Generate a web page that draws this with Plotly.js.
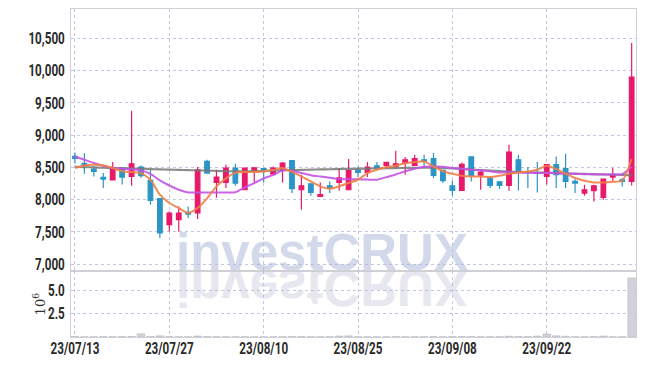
<!DOCTYPE html>
<html>
<head>
<meta charset="utf-8">
<script src="https://cdn.plot.ly/plotly-3.0.1.min.js"></script>
<style>
html,body{margin:0;padding:0;background:#fff;}
#chart{width:645px;height:366px;}
</style>
</head>
<body>
<div id="chart"></div>
<script>
const dates = ['23/07/13','23/07/14','23/07/17','23/07/18','23/07/19','23/07/20','23/07/21','23/07/24','23/07/25','23/07/26',
'23/07/27','23/07/28','23/07/31','23/08/01','23/08/02','23/08/03','23/08/04','23/08/07','23/08/08','23/08/09',
'23/08/10','23/08/11','23/08/14','23/08/16','23/08/17','23/08/18','23/08/21','23/08/22','23/08/23','23/08/24',
'23/08/25','23/08/28','23/08/29','23/08/30','23/08/31','23/09/01','23/09/04','23/09/05','23/09/06','23/09/07',
'23/09/08','23/09/11','23/09/12','23/09/13','23/09/14','23/09/15','23/09/18','23/09/19','23/09/20','23/09/21',
'23/09/22','23/09/25','23/09/26','23/09/27','23/10/04','23/10/05','23/10/06','23/10/10','23/10/11','23/10/12'];

const openP  = [8670,8565,8475,8345,8305,8495,8360,8505,8298,8015, 7612,7690,7802,7793,8593,8268,8268,8490,8154,8438,
                8480,8397,8464,8604,8154,8247,8051,8216,8268,8154, 8454,8423,8526,8531,8516,8567,8531,8619,8635,8454,
                8216,8143,8665,8380,8325,8278,8221,8619,8432,8420, 8360,8542,8480,8283,8103,8139,8035,8350,8309,8283];
const highP  = [8730,8720,8515,8413,8585,8500,9380,8530,8464,8015, 7818,7895,7895,8506,8620,8464,8542,8557,8500,8500,
                8480,8516,8583,8604,8387,8247,8268,8283,8490,8630, 8516,8583,8583,8578,8758,8661,8697,8697,8723,8454,
                8298,8578,8665,8464,8360,8278,8850,8697,8506,8583, 8542,8671,8712,8320,8232,8232,8320,8490,8335,10428];
const lowP   = [8560,8400,8360,8180,8300,8235,8217,8340,7922,7406, 7508,7508,7716,7700,8413,8030,8180,8216,8154,8268,
                8268,8397,8268,8103,7844,8061,8051,8103,8140,8154, 8350,8350,8464,8480,8475,8387,8531,8516,8335,8258,
                8061,8143,8283,8154,8180,8165,8139,8143,8180,8112, 8236,8180,8180,8103,8061,7973,7999,8283,8206,8221];
const closeP = [8640,8535,8440,8320,8490,8350,8557,8371,7988,7483, 7793,7793,7777,8464,8413,8350,8490,8258,8490,8495,
                8464,8490,8567,8170,8216,8112,8077,8180,8340,8449, 8423,8506,8490,8578,8557,8619,8635,8599,8376,8294,
                8143,8548,8376,8428,8221,8221,8738,8438,8425,8413, 8542,8387,8283,8258,8154,8216,8320,8387,8283,9901];
const volume = [0.04e6,0.03e6,0.03e6,0.04e6,0.03e6,0.04e6,0.05e6,0.35e6,0.05e6,0.12e6, 0.04e6,0.03e6,0.03e6,0.10e6,0.05e6,0.03e6,0.03e6,0.03e6,0.03e6,0.02e6,
                0.02e6,0.02e6,0.03e6,0.04e6,0.04e6,0.03e6,0.03e6,0.03e6,0.10e6,0.12e6, 0.03e6,0.03e6,0.02e6,0.03e6,0.04e6,0.03e6,0.03e6,0.03e6,0.04e6,0.03e6,
                0.04e6,0.05e6,0.04e6,0.03e6,0.03e6,0.03e6,0.08e6,0.05e6,0.04e6,0.10e6, 0.32e6,0.12e6,0.08e6,0.03e6,0.03e6,0.04e6,0.10e6,0.03e6,0.03e6,6.28e6];
const ma5  = [8490,8530,8540,8530,8490,8440,8428,8413,8310,8077, 7948,7870,7793,7870,8020,8206,8330,8420,8428,8430,
              8435,8460,8490,8430,8360,8283,8206,8170,8206,8258, 8309,8413,8464,8506,8526,8568,8583,8593,8516,8438,
              8402,8371,8360,8360,8350,8371,8402,8423,8438,8464, 8526,8475,8402,8335,8294,8268,8268,8278,8294,8630];
const ma20 = [8670,8620,8570,8526,8490,8480,8470,8454,8400,8300, 8220,8154,8112,8112,8112,8112,8112,8115,8190,8258,
              8330,8380,8454,8450,8413,8380,8360,8340,8320,8318, 8316,8312,8309,8350,8390,8440,8480,8510,8516,8510,
              8490,8478,8464,8454,8440,8423,8425,8420,8418,8415, 8413,8410,8405,8400,8395,8392,8390,8390,8395,8510];
const ma60 = [8510,8505,8500,8495,8490,8486,8482,8478,8474,8470, 8466,8462,8458,8454,8450,8446,8442,8440,8440,8442,
              8446,8450,8454,8458,8462,8466,8470,8472,8475,8477, 8479,8482,8485,8488,8490,8492,8494,8495,8494,8490,
              8484,8476,8468,8460,8452,8444,8436,8430,8425,8420, 8416,8412,8408,8404,8400,8396,8392,8388,8384,8378];
const priceTicks = [7000,7500,8000,8500,9000,9500,10000,10500];
const volTicks = [2.5e6,5e6];
const volTickText = ['2.5','5.0'];
const xTicks = ['23/07/13','23/07/27','23/08/10','23/08/25','23/09/08','23/09/22'];
const watermark = 'investCRUX';

const RED = '#e8196b', BLUE = '#2b95c8';
const tickFont = {family:'Roboto, "Liberation Sans", sans-serif', size:16, weight:'bold', color:'#2a2a2a'};
const gridC = 'rgba(175,180,215,0.75)';

const traces = [
  {type:'bar', x:dates, y:volume, xaxis:'x2', yaxis:'y2',
   marker:{color:'rgba(205,205,214,0.9)', line:{color:'rgba(180,180,190,0.9)', width:0.6}},
   hoverinfo:'skip', showlegend:false},
  {type:'candlestick', x:dates, open:openP, high:highP, low:lowP, close:closeP,
   xaxis:'x', yaxis:'y',
   increasing:{line:{color:RED,width:1.2}, fillcolor:RED},
   decreasing:{line:{color:BLUE,width:1.2}, fillcolor:BLUE},
   showlegend:false, hoverinfo:'skip'},
  {type:'scatter', mode:'lines', x:dates, y:ma60, xaxis:'x', yaxis:'y',
   line:{color:'rgba(120,120,120,0.85)', width:2.2, shape:'spline', smoothing:0.6}, showlegend:false, hoverinfo:'skip'},
  {type:'scatter', mode:'lines', x:dates, y:ma20, xaxis:'x', yaxis:'y',
   line:{color:'rgba(196,82,230,0.9)', width:2, shape:'spline', smoothing:0.6}, showlegend:false, hoverinfo:'skip'},
  {type:'scatter', mode:'lines', x:dates, y:ma5, xaxis:'x', yaxis:'y',
   line:{color:'rgba(240,128,70,0.9)', width:2, shape:'spline', smoothing:0.6}, showlegend:false, hoverinfo:'skip'}
];

const xCommon = {
  type:'category', range:[-0.42, 59.46], tickmode:'array', tickvals:xTicks,
  showgrid:true, gridcolor:gridC, griddash:'dot', gridwidth:1,
  showline:true, linecolor:'#cfcfd6', linewidth:1, mirror:true,
  ticks:'', tickfont:tickFont, zeroline:false, fixedrange:true
};

const layout = {
  width:645, height:366,
  margin:{l:71, r:9, t:9, b:29},
  paper_bgcolor:'#ffffff', plot_bgcolor:'rgba(0,0,0,0)',
  showlegend:false, hovermode:false,
  xaxis:Object.assign({}, xCommon, {anchor:'y', showticklabels:false, rangeslider:{visible:false}}),
  xaxis2:Object.assign({}, xCommon, {anchor:'y2', matches:'x', showticklabels:true, ticklabelstandoff:0}),
  yaxis:{domain:[0.2,1], range:[6888,10956], tickmode:'array', tickvals:priceTicks, tickformat:',d',
    showgrid:true, gridcolor:gridC, griddash:'dot', gridwidth:1,
    showline:true, linecolor:'#cfcfd6', mirror:true, ticks:'', tickfont:tickFont,
    ticklabelstandoff:2, zeroline:false, fixedrange:true},
  yaxis2:{domain:[0,0.2], range:[0,6.98e6], tickmode:'array', tickvals:volTicks, ticktext:volTickText,
    showgrid:true, gridcolor:gridC, griddash:'dot', gridwidth:1,
    showline:true, linecolor:'#cfcfd6', mirror:true, ticks:'', tickfont:tickFont,
    ticklabelstandoff:2, zeroline:false, fixedrange:true,
    title:{text:'10<sup>6</sup>', font:{family:'"DejaVu Serif", serif', size:13, color:'#333'}, standoff:3}},
  annotations:[{
    text:watermark, xref:'paper', yref:'paper', x:0.4434, y:0.164, xanchor:'center', yanchor:'bottom',
    showarrow:false, font:{family:'"Liberation Sans", Arial, sans-serif', size:51, weight:'bold', color:'#d3d9ea'}
  }]
};

const gd = document.getElementById('chart');
Plotly.newPlot(gd, traces, layout, {staticPlot:true, displayModeBar:false}).then(function(){
  const sx = 0.73;
  function condense(sel, dy){
    gd.querySelectorAll(sel).forEach(function(t){
      const X = parseFloat(t.getAttribute('x')) || 0;
      const Y = parseFloat(t.getAttribute('y')) || 0;
      const tr = t.getAttribute('transform') || '';
      t.setAttribute('transform', 'translate(0,' + dy + ') ' + tr + ' translate(' + X + ',' + Y + ') scale(' + sx + ',1) translate(' + (-X) + ',' + (-Y) + ')');
    });
  }
  condense('.xaxislayer-above text', -3.5);
  condense('.yaxislayer-above text', 0);
  const yt = gd.querySelector('.g-y2title');
  if(yt) yt.setAttribute('transform', 'translate(10,0)');
  // watermark behind grid + reflection
  const textEl = gd.querySelector('.annotation-text');
  if(!textEl) return;
  const ann = textEl.closest('.annotation');
  const svgMain = gd.querySelector('.main-svg');
  const cart = svgMain.querySelector('.cartesianlayer');
  const gdRect = svgMain.getBoundingClientRect();
  const r = textEl.getBoundingClientRect();
  const baseline = r.bottom - gdRect.top - 0.212*51;
  const wrap = document.createElementNS('http://www.w3.org/2000/svg','g');
  const refl = document.createElementNS('http://www.w3.org/2000/svg','g');
  refl.setAttribute('transform','translate(0,'+(2*baseline)+') scale(1,-1)');
  const clone = ann.cloneNode(true);
  const ct = clone.querySelector('.annotation-text');
  ct.style.fill = '#e6e7ef';
  refl.appendChild(clone);
  wrap.appendChild(ann);
  wrap.appendChild(refl);
  cart.parentNode.insertBefore(wrap, cart);
});
</script>
</body>
</html>
